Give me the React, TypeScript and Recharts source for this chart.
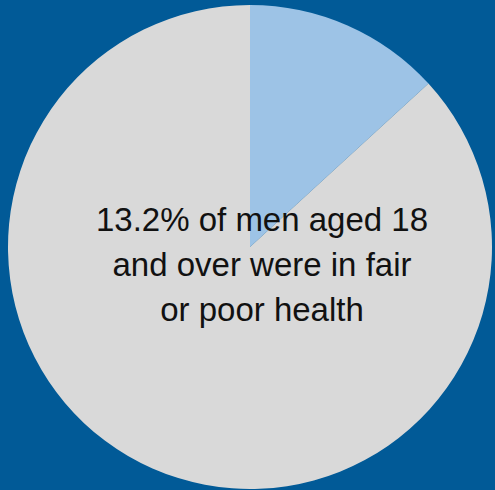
import { PieChart, Pie, Cell, Label } from "recharts"

// share of men 18+ in fair/poor health vs. the rest
const categories = ["Fair or poor health", "Good or better health"]
const values = [13.2, 86.8]
const colors = ["#9DC3E6", "#D9D9D9"]
const captionLines = ["13.2% of men aged 18", "and over were in fair", "or poor health"]

const data = categories.map((name, i) => ({ name, value: values[i] }))

function Caption({ viewBox }: any) {
    const cx = viewBox?.cx ?? 250
    const cy = viewBox?.cy ?? 247
    return (
        <text
            x={cx + 12}
            y={cy - 16}
            textAnchor="middle"
            fill="#111"
            style={{ fontFamily: "Liberation Sans, Arial, sans-serif", fontSize: 33 }}
        >
            {captionLines.map((line, i) => (
                <tspan key={i} x={cx + 12} dy={i === 0 ? 0 : 45}>
                    {line}
                </tspan>
            ))}
        </text>
    )
}

export default function App() {
    return (
        <div style={{ position: "fixed", left: 0, top: 0, width: 495, height: 490, background: "#015A97" }}>
            <PieChart width={495} height={490} margin={{ top: 0, right: 0, bottom: 0, left: 0 }}>
                <Pie
                    data={data}
                    dataKey="value"
                    nameKey="name"
                    cx={250}
                    cy={247}
                    outerRadius={242}
                    startAngle={90}
                    endAngle={-270}
                    stroke="none"
                    isAnimationActive={false}
                >
                    {data.map((entry, i) => (
                        <Cell key={entry.name} fill={colors[i]} />
                    ))}
                    <Label position="center" content={<Caption />} />
                </Pie>
            </PieChart>
        </div>
    )
}
